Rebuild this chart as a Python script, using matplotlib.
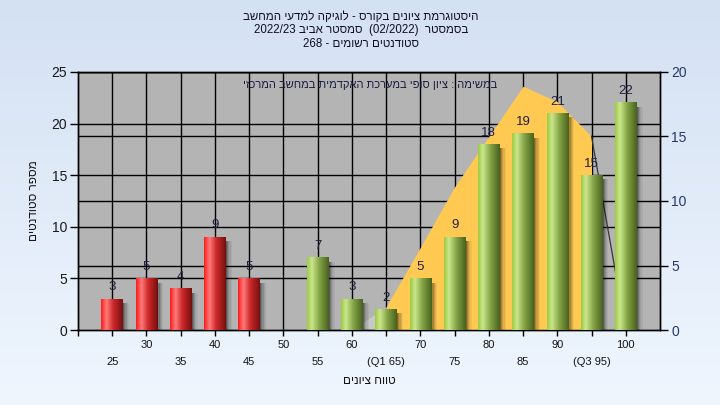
import re
import numpy as np
import matplotlib
matplotlib.use('Agg')
import matplotlib.pyplot as plt
from matplotlib.colors import LinearSegmentedColormap
from matplotlib import transforms as mtransforms

plt.rcParams['font.family'] = ['Liberation Sans', 'DejaVu Sans']

# histogram data
grade_bins = [25, 30, 35, 40, 45, 50, 55, 60, 65, 70, 75, 80, 85, 90, 95, 100]
students = [3, 5, 4, 9, 5, 0, 7, 3, 2, 5, 9, 18, 19, 21, 15, 22]

# distribution curve on the right axis
curve_bins = [60, 65, 70, 75, 80, 85, 90, 95, 100]
curve_vals = [0, 1.8, 6.4, 11.1, 15.0, 18.9, 17.7, 15.0, 0]

upper_ticks = [30, 40, 50, 60, 70, 80, 90, 100]
lower_ticks = [25, 35, 45, 55, 65, 75, 85, 95]
lower_labels = ['25', '35', '45', '55', '(Q1 65)', '75', '85', '(Q3 95)']
left_ticks = [0, 5, 10, 15, 20, 25]
right_ticks = [0, 5, 10, 15, 20]
pass_mark = 55

title_lines = ['היסטוגרמת ציונים בקורס - לוגיקה למדעי המחשב',
               'בסמסטר  (02/2022)  סמסטר אביב 2022/23',
               'סטודנטים רשומים - 268']
inner_note = 'במשימה : ציון סופי במערכת האקדמית במחשב המרכזי'
xlabel = 'טווח ציונים'
ylabel = 'מספר סטודנטים'


def heb(s):
    # matplotlib has no bidi, so put the text in visual order
    r = s[::-1]
    r = re.sub(r'[0-9A-Za-z/.]+', lambda m: m.group(0)[::-1], r)
    return r.translate(str.maketrans('()', ')('))


W, H = 720, 405
fig = plt.figure(figsize=(7.2, 4.05), dpi=100)

# background gradient
bg = fig.add_axes([0, 0, 1, 1], zorder=-10)
grad = np.linspace(0, 1, 256).reshape(-1, 1)
bg.imshow(grad, aspect='auto', extent=[0, 1, 0, 1],
          cmap=LinearSegmentedColormap.from_list('bg', ['#d4e1f3', '#eff6fe']))
bg.axis('off')

left, right, top, bottom = 78, 660, 72, 330
rect = [left / W, 1 - bottom / H, (right - left) / W, (bottom - top) / H]
ax_l = fig.add_axes(rect)
ax_r = ax_l.twinx()
ax_l.set_zorder(2)
ax_r.set_zorder(1)
ax_l.patch.set_visible(False)
ax_r.patch.set_visible(True)
ax_r.patch.set_facecolor('#b4b4b4')

ax_l.set_xlim(20, 105)
ax_l.set_ylim(0, 25)
ax_r.set_ylim(0, 20)

# grid lines, all beneath the area
ax_r.vlines(grade_bins, 0, 1, transform=ax_r.get_xaxis_transform(),
            color='black', lw=1, zorder=1)
blend = mtransforms.blended_transform_factory(ax_r.transAxes, ax_l.transData)
ax_r.hlines(left_ticks[1:], 0, 1, transform=blend, color='black', lw=1, zorder=1)
ax_r.hlines(right_ticks[1:], 0, 1, transform=ax_r.get_yaxis_transform(),
            color='black', lw=1, zorder=1)

# area
ax_r.fill_between(curve_bins[:2], curve_vals[:2], color='#c8c8c8', lw=0, zorder=2)
ax_r.fill_between(curve_bins[1:-1], curve_vals[1:-1], color='#ffc952', lw=0, zorder=3)
ax_r.plot(curve_bins[-2:], curve_vals[-2:], color='#383838', lw=0.9, zorder=3)

red_cmap = LinearSegmentedColormap.from_list(
    'red', [(0, '#ff1c1c'), (0.25, '#ff7c7c'), (0.55, '#d02a2a'), (1, '#761010')])
green_cmap = LinearSegmentedColormap.from_list(
    'green', [(0, '#9ccb3e'), (0.22, '#cbe68e'), (0.55, '#87a748'), (1, '#48621e')])

bw = 3.15
shade = np.linspace(0, 1, 64).reshape(1, -1)
for x, v in zip(grade_bins, students):
    if v == 0:
        continue
    x0, x1 = x - bw / 2, x + bw / 2
    # soft shadow on the right
    for k, a in enumerate([0.5, 0.35, 0.22, 0.12, 0.05]):
        ax_l.fill_between([x1 + k * 0.18, x1 + (k + 1) * 0.18], -0.5, v - 0.4,
                          color='black', alpha=a, lw=0, zorder=2)
    cmap = red_cmap if x < pass_mark else green_cmap
    ax_l.imshow(shade, extent=[x0, x1, 0, v], aspect='auto', cmap=cmap,
                interpolation='bilinear', zorder=3)
    ax_l.text(x, v + 0.55, str(v), ha='center', va='bottom', fontsize=9.5,
              color='#202040', zorder=4)

ax_l.set_xlim(20, 105)
ax_l.set_ylim(0, 25)

# ticks
ax_l.set_xticks([20] + upper_ticks, labels=[''] + [str(t) for t in upper_ticks])
ax_l.set_xticks(lower_ticks, labels=lower_labels, minor=True)
ax_l.tick_params(axis='x', which='both', direction='out', length=4, width=1,
                 labelsize=8, labelcolor='#141414')
ax_l.tick_params(axis='x', which='major', pad=3)
ax_l.tick_params(axis='x', which='minor', pad=15.5)
ax_l.set_yticks(left_ticks)
ax_l.tick_params(axis='y', direction='out', length=6, width=1, pad=2,
                 labelsize=10, labelcolor='#1a1a1a')
ax_r.set_yticks(right_ticks)
ax_r.tick_params(axis='y', direction='out', length=6, width=1, pad=2,
                 labelsize=10, labelcolor='#24386e')
for a in (ax_l, ax_r):
    for s in a.spines.values():
        s.set_color('black')
        s.set_linewidth(1)

ax_l.set_xlabel(heb(xlabel), fontsize=8.5, color='#141414')
ax_l.xaxis.set_label_coords(0.5, -0.175)
ax_l.set_ylabel(heb(ylabel), fontsize=8.5, color='#141414')
ax_l.yaxis.set_label_coords(-0.065, 0.5)

ax_l.text(0.502, 0.95, heb(inner_note), transform=ax_l.transAxes, ha='center',
          va='center', fontsize=8, color='#1a1a40', zorder=5)

for i, line in enumerate(title_lines):
    fig.text(361 / W, 1 - (17 + 13.5 * i) / H, heb(line), ha='center', va='center',
             fontsize=8.3, color='#101020')

fig.savefig('out.png', dpi=100)
